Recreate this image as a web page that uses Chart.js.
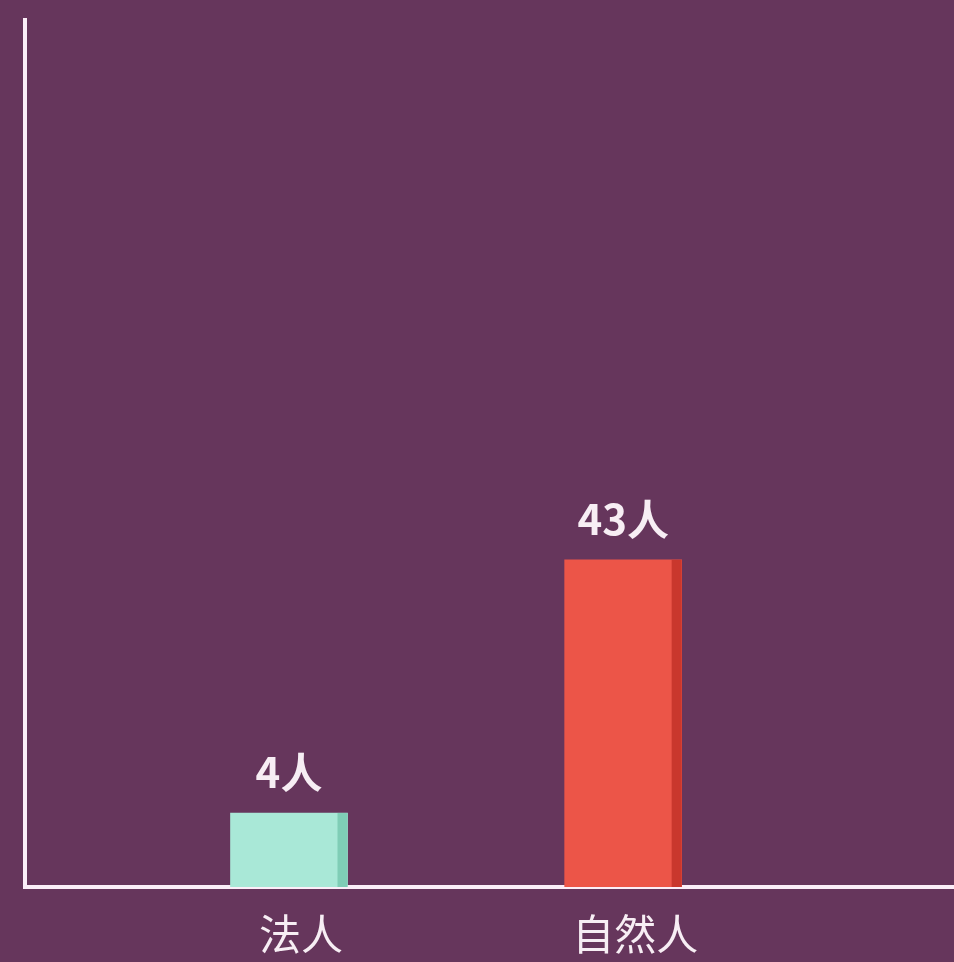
<!DOCTYPE html>
<html lang="zh">
<head>
  <meta charset="UTF-8">
  <script src="https://cdn.jsdelivr.net/npm/chart.js"></script>
  <title>法人 / 自然人</title>
  <style>
    html, body {
      margin: 0;
      padding: 0;
      background: #66365c;
    }
    #wrap {
      width: 954px;
      height: 962px;
      position: relative;
    }
  </style>
</head>
<body>
  <div id="wrap">
    <canvas id="chart"></canvas>
  </div>

  <script>
    // data
    const categories = ['法人', '自然人'];
    const counts = [4, 43];
    const unit = '人';
    const barColors = ['#a9e8d7', '#ec5548'];
    const sideColors = ['#7fcdb6', '#c9372d'];

    // darker strip on the right side of each bar (fake 3d edge)
    const barSide = {
      id: 'barSide',
      afterDatasetsDraw(chart) {
        const ctx = chart.ctx;
        chart.getDatasetMeta(0).data.forEach((bar, i) => {
          const p = bar.getProps(['x', 'y', 'base', 'width'], true);
          const right = p.x + p.width / 2;
          ctx.save();
          ctx.fillStyle = sideColors[i];
          ctx.fillRect(right - 10, p.y, 10, p.base - p.y);
          ctx.restore();
        });
      }
    };

    // value labels above bars
    const valueLabels = {
      id: 'valueLabels',
      afterDatasetsDraw(chart) {
        const ctx = chart.ctx;
        ctx.save();
        ctx.fillStyle = '#f7eef4';
        ctx.font = 'bold 42px "Noto Sans CJK SC", "Noto Sans", sans-serif';
        ctx.textAlign = 'center';
        ctx.textBaseline = 'bottom';
        chart.getDatasetMeta(0).data.forEach((bar, i) => {
          ctx.fillText(counts[i] + unit, bar.x, bar.y - 20);
        });
        ctx.restore();
      }
    };

    new Chart(document.getElementById('chart'), {
      type: 'bar',
      data: {
        datasets: [{
          data: counts.map((v, i) => ({ x: i, y: v })),
          backgroundColor: barColors,
          borderWidth: 0,
          barThickness: 117
        }]
      },
      options: {
        responsive: true,
        maintainAspectRatio: false,
        animation: false,
        layout: { padding: { top: 20, left: 25, right: 0, bottom: 0 } },
        plugins: {
          legend: { display: false },
          tooltip: { enabled: false }
        },
        scales: {
          x: {
            type: 'linear',
            offset: false,
            min: -0.79,
            max: 1.99,
            afterBuildTicks(scale) {
              scale.ticks = categories.map((c, i) => ({ value: i }));
            },
            afterFit(scale) { scale.height = 75; },
            grid: { display: false, drawTicks: false, offset: false },
            border: { display: true, color: '#fbeef8', width: 4 },
            ticks: {
              color: '#f7eef4',
              padding: 22,
              labelOffset: 12,
              font: { family: '"Noto Sans CJK SC", sans-serif', size: 42 },
              callback: (v) => categories[v]
            }
          },
          y: {
            type: 'logarithmic',
            min: 2,
            max: 6800,
            afterFit(scale) { scale.width = 0; },
            grid: { display: false, drawTicks: false },
            border: { display: true, color: '#fbeef8', width: 4 },
            ticks: { display: false }
          }
        }
      },
      plugins: [barSide, valueLabels]
    });
  </script>
</body>
</html>
